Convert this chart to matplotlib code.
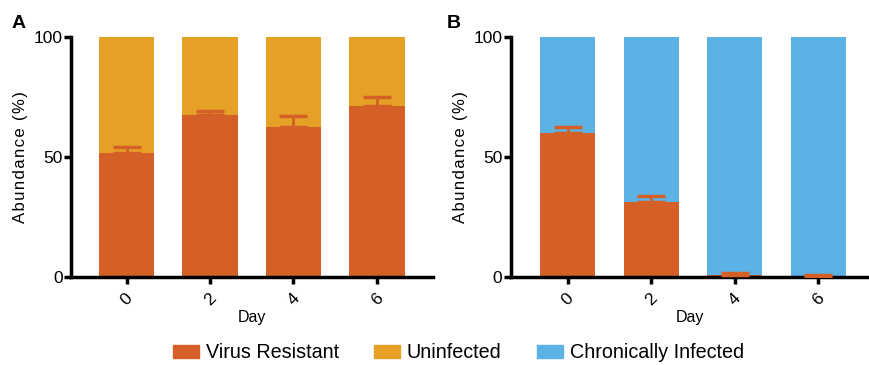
import numpy as np
import matplotlib
matplotlib.use("Agg")
import matplotlib.pyplot as plt
from matplotlib.patches import Patch

plt.rcParams['font.family'] = ['Liberation Sans', 'DejaVu Sans']

days = ['0', '2', '4', '6']

# panel A: resistant + uninfected
a_resistant = [51.7, 67.5, 62.6, 71.1]
a_resistant_err = [2.5, 1.7, 4.6, 3.9]
# panel B: resistant + chronically infected
b_resistant = [60.0, 31.1, 1.0, 0.5]
b_resistant_err = [2.5, 2.6, 0.8, 0.4]

c_res = '#D45F27'
c_uninf = '#E5A125'
c_chron = '#5CB2E5'

fig = plt.figure(figsize=(8.7, 3.65), dpi=100)
axA = fig.add_axes([0.0816, 0.241, 0.416, 0.6575])
axB = fig.add_axes([0.587, 0.241, 0.413, 0.6575])

# GraphPad-style loose letter spacing on the y label
ylab = '\u200a'.join('Abundance (%)')

def draw(ax, res, err, top_color, xlim):
    x = np.arange(len(days))
    other = [100 - v for v in res]
    ax.bar(x, res, width=0.66, color=c_res, zorder=2)
    ax.bar(x, other, bottom=res, width=0.66, color=top_color, zorder=2)
    ax.errorbar(x, res, yerr=[np.zeros(len(res)), err], fmt='none',
                ecolor=c_res, elinewidth=2, capsize=10, capthick=2.5, zorder=3)
    ax.set_xlim(*xlim)
    ax.set_ylim(0, 100)
    ax.set_yticks([0, 50, 100])
    ax.set_xticks(x)
    ax.set_xticklabels(days, rotation=45, ha='center', va='top')
    for s in ['top', 'right']:
        ax.spines[s].set_visible(False)
    for s in ['left', 'bottom']:
        ax.spines[s].set_linewidth(2.5)
    ax.tick_params(axis='both', width=2.5, length=5, labelsize=12.5, pad=1)
    ax.tick_params(axis='x', pad=5)
    ax.set_ylabel(ylab, fontsize=12, labelpad=4)
    ax.set_xlabel('Day', fontsize=11.5, labelpad=1)

draw(axA, a_resistant, a_resistant_err, c_uninf, (-0.665, 3.67))
draw(axB, b_resistant, b_resistant_err, c_chron, (-0.683, 3.62))

fig.text(0.013, 0.923, 'A', fontsize=14, fontweight='bold')
fig.text(0.514, 0.923, 'B', fontsize=14, fontweight='bold')

handles = [Patch(color=c_res, label='Virus Resistant'),
           Patch(color=c_uninf, label='Uninfected'),
           Patch(color=c_chron, label='Chronically Infected')]
fig.legend(handles=handles, loc='center', bbox_to_anchor=(0.527, 0.033), ncol=3,
           frameon=False, fontsize=14.2, handlelength=1.3, handleheight=0.6,
           handletextpad=0.35, columnspacing=1.8)

fig.savefig('out.png', dpi=100)
